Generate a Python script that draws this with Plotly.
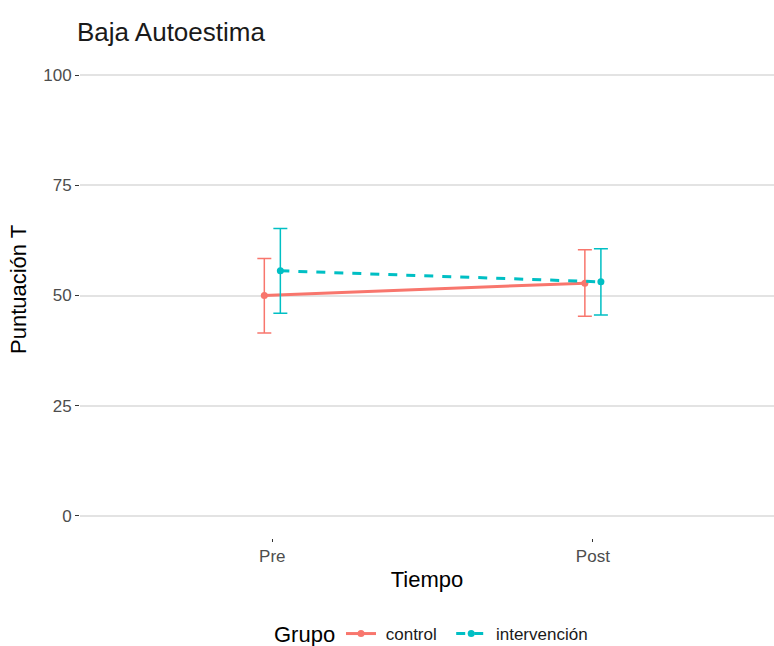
import plotly.graph_objects as go

tiempo = ["Pre", "Post"]
tiempo_pos = [1, 2]
grupos = ["control", "intervención"]
colores = ["#F8766D", "#00BFC4"]
dashes = ["solid", "dash"]
dodge = [-0.025, 0.025]

medias = {
    "control": [50.0, 52.8],
    "intervención": [55.6, 53.1],
}
sup = {
    "control": [58.4, 60.4],
    "intervención": [65.2, 60.6],
}
inf = {
    "control": [41.5, 45.3],
    "intervención": [46.0, 45.6],
}

fig = go.Figure()
for g, c, d, dx in zip(grupos, colores, dashes, dodge):
    m = medias[g]
    fig.add_trace(go.Scatter(
        x=[p + dx for p in tiempo_pos], y=m, name="\u00a0" + g + "\u00a0\u00a0",
        mode="lines+markers",
        line=dict(color=c, width=3, dash=d),
        marker=dict(color=c, size=7),
        error_y=dict(type="data", symmetric=False,
                     array=[s - v for s, v in zip(sup[g], m)],
                     arrayminus=[v - i for v, i in zip(m, inf[g])],
                     color=c, thickness=1.5, width=7),
    ))

L, T, W, H = 80, 53, 694, 485
font = "Liberation Sans, Arial, sans-serif"
fig.update_layout(
    width=774, height=646,
    margin=dict(l=L, r=0, t=T, b=646 - T - H, autoexpand=False),
    plot_bgcolor="white", paper_bgcolor="white",
    font=dict(family=font, color="#000000"),
    title=dict(text="Baja Autoestima", x=77/774, xanchor="left", xref="container",
               y=1-32/646, yanchor="middle", yref="container",
               font=dict(size=26, color="#1a1a1a", family=font)),
    xaxis=dict(range=[0.4, 2.565], tickvals=tiempo_pos, ticktext=tiempo,
               showgrid=False, zeroline=False, showline=False,
               ticks="outside", ticklen=3, tickcolor="#333333", tickwidth=1,
               tickfont=dict(size=17, color="#4d4d4d"),
               title=dict(text="Tiempo", font=dict(size=22, color="#000000"), standoff=6)),
    yaxis=dict(range=[-5, 105], tickvals=[0, 25, 50, 75, 100],
               showgrid=True, gridcolor="#e3e3e3", gridwidth=1.5, zeroline=False, showline=False,
               ticks="outside", ticklen=4, tickcolor="#333333", tickwidth=1,
               tickfont=dict(size=17, color="#4d4d4d")),
    legend=dict(orientation="h", x=341/774, xanchor="left", xref="container",
                y=-(634-(T+H))/H, yanchor="middle",
                font=dict(size=17, color="#1a1a1a"), itemwidth=30),
    annotations=[
        dict(text="Grupo", xref="paper", yref="paper",
             x=(272-L)/W, xanchor="left", y=-(634-(T+H))/H, yanchor="middle",
             showarrow=False, font=dict(size=22, color="#000000")),
        dict(text="Puntuación T", xref="paper", yref="paper", textangle=-90,
             x=(18-L)/W, xanchor="center", y=(T+H-290)/H, yanchor="middle",
             showarrow=False, font=dict(size=22, color="#000000")),
    ],
    showlegend=True,
)
fig.write_html("out.html")
